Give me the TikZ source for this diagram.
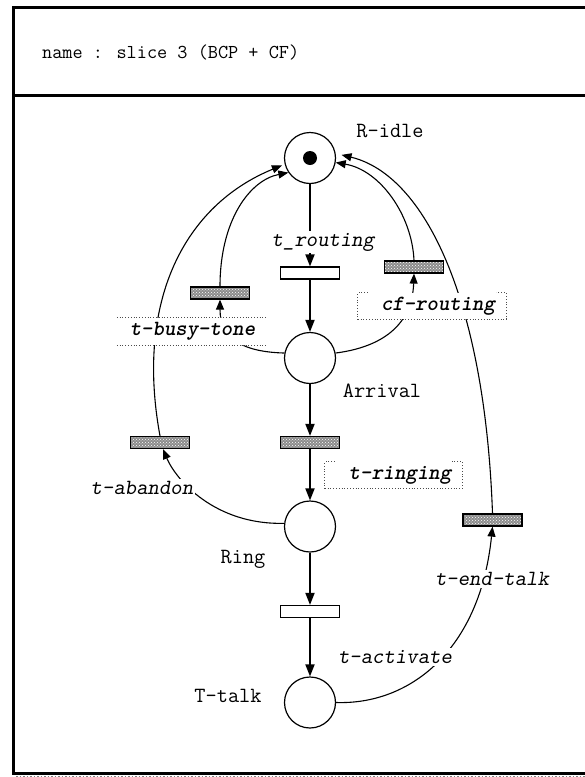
\documentclass[tikz,border=0pt]{standalone}
\usetikzlibrary{arrows.meta,patterns}

\tikzset{
  place/.style={circle, draw, line width=1.2pt, minimum size=51pt, inner sep=0pt},
  trans/.style={rectangle, draw, line width=1.2pt, minimum width=59pt, minimum height=12pt, inner sep=0pt, fill=white},
  graytrans/.style={rectangle, draw, line width=1.2pt, minimum width=59pt, minimum height=12pt, inner sep=0pt,
    preaction={fill=black!45}, pattern=crosshatch dots, pattern color=white},
  mainarc/.style={line width=1.8pt, -{Triangle[length=12pt,width=9pt]}},
  arc/.style={line width=1.1pt, -{Triangle[length=10pt,width=8pt]}},
  lbl/.style={font=\ttfamily\fontsize{21.7}{22}\selectfont, inner sep=1pt},
  ilbl/.style={font=\ttfamily\slshape\fontsize{21.7}{22}\selectfont, inner sep=2pt, fill=white},
  blbl/.style={font=\ttfamily\bfseries\slshape\fontsize{21.7}{22}\selectfont, inner sep=1pt},
  hdr/.style={font=\ttfamily\fontsize{19.7}{20}\selectfont, inner sep=0pt},
  dotline/.style={dotted, line width=0.8pt, black!70},
  frameline/.style={line width=3pt},
}

\begin{document}
\begin{tikzpicture}[x=1pt, y=-1pt]
\useasboundingbox (0,0) rectangle (585,777);

% outer frame and header
\draw[frameline] (585,7.5) -- (13,7.5) -- (13,773) -- (585,773);
\draw[frameline] (13,95.5) -- (585,95.5);
\draw[gray, dotted, line width=1.5pt] (16,776.5) -- (585,776.5);
\node[hdr, anchor=west] (title) at (42,52) {name : slice 3 (BCP + CF)};

% places
\node[place] (Ridle) at (310,158) {};
\fill (Ridle) circle (7);
\node[place] (Arr) at (310,358) {};
\node[place] (Ring) at (310,526.5) {};
\node[place] (Ttalk) at (310,702.5) {};

% transitions
\node[trans] (trout) at (310,273) {};
\node[graytrans] (tring) at (310,442.5) {};
\node[trans] (tact) at (310,611.5) {};
\node[graytrans] (tbusy) at (220,293) {};
\node[graytrans] (tcf) at (414,267) {};
\node[graytrans] (tab) at (160,442.5) {};
\node[graytrans] (tend) at (492.5,520) {};

% main vertical flow
\draw[mainarc] (Ridle) -- (trout);
\draw[mainarc] (trout) -- (Arr);
\draw[mainarc] (Arr) -- (tring);
\draw[mainarc] (tring) -- (Ring);
\draw[mainarc] (Ring) -- (tact);
\draw[mainarc] (tact) -- (Ttalk);

% side branches
\draw[arc] (Arr.169) .. controls (245,352) and (220,340) .. (tbusy.south);
\draw[arc] (Arr.11) .. controls (375,348) and (412,330) .. (tcf.south);
\draw[arc] (Ring.173) .. controls (215,525) and (176,480) .. ([xshift=3pt]tab.south);
\draw[arc] (Ttalk.east) .. controls (410,705) and (480,650) .. (tend.south);

% returns to R-idle
\draw[arc] (tbusy.north) .. controls (220,220) and (250,180) .. (Ridle.214);
\draw[arc, shorten >=3pt] (tab.north) .. controls (135,300) and (185,205) .. (Ridle.194);
\draw[arc] (tcf.north) .. controls (412,215) and (380,170) .. (Ridle.-10);
\draw[arc, shorten >=6pt] (tend.north) .. controls (485,300) and (425,175) .. (Ridle.10);

% place labels
\node[lbl] (lRidle) at (390,131) {R-idle};
\node[lbl] (lArr) at (382,391) {Arrival};
\node[lbl] (lRing) at (243,559) {Ring};
\node[lbl] (lTtalk) at (228,696) {T-talk};

% transition labels
\node[ilbl] (lrout) at (323,242) {t\_routing};
\node[ilbl] (lab) at (142,488) {t-abandon};
\node[ilbl] (lend) at (492,579) {t-end-talk};
\node[ilbl] (lact) at (395,657) {t-activate};

% boxed labels
\node[fill=white, minimum width=150pt, minimum height=27pt, inner sep=0pt] (busybox) at (192,331.5) {};
\draw[dotline] (busybox.north west) -- (busybox.north east);
\draw[dotline] (busybox.south west) -- (busybox.south east);
\node[blbl] (lbusy) at (192.5,331.5) {t-busy-tone};

\node[fill=white, minimum width=148pt, minimum height=26pt, inner sep=0pt] (cfbox) at (432,306) {};
\draw[dotline] ([xshift=10pt]cfbox.north west) -- (cfbox.north west) -- (cfbox.south west)
  -- (cfbox.south east) -- (cfbox.north east) -- ([xshift=-10pt]cfbox.north east);
\node[blbl] (lcf) at (438,306) {cf-routing};

\node[fill=white, minimum width=137pt, minimum height=26pt, inner sep=0pt] (ringbox) at (393.5,475) {};
\draw[dotline] ([xshift=10pt]ringbox.north west) -- (ringbox.north west) -- (ringbox.south west)
  -- (ringbox.south east) -- (ringbox.north east) -- ([xshift=-10pt]ringbox.north east);
\node[blbl] (lring) at (400,475) {t-ringing};
\end{tikzpicture}
\end{document}
